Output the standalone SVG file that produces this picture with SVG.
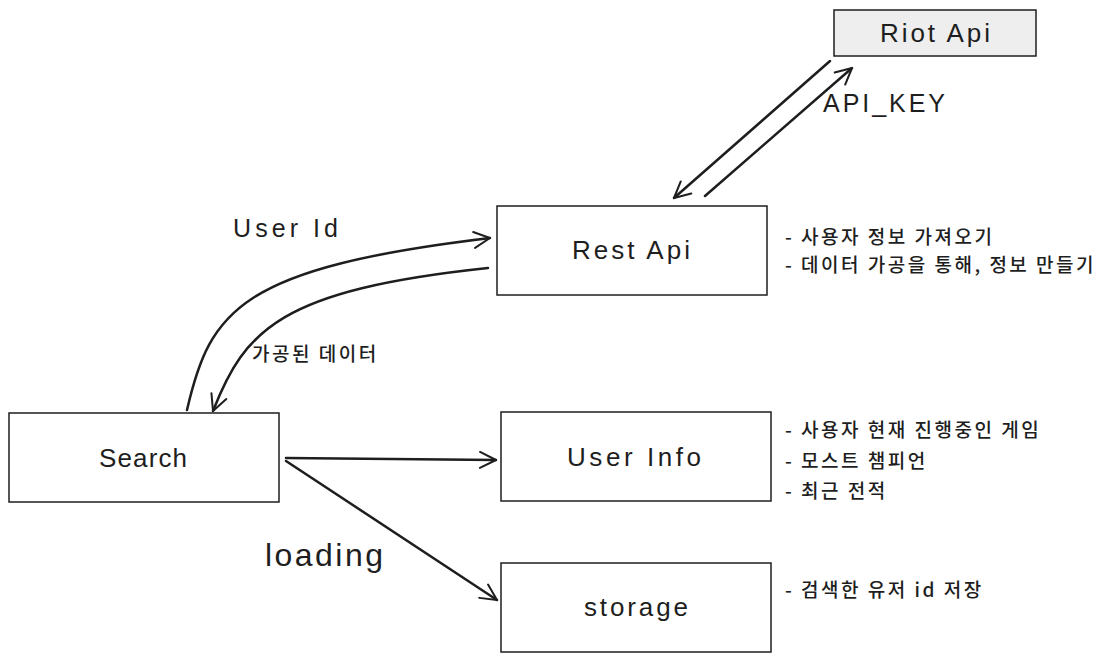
<svg xmlns="http://www.w3.org/2000/svg" width="1105" height="661" viewBox="0 0 1105 661">
<defs>
<marker id="ah" viewBox="0 0 20 20" refX="18" refY="10" markerWidth="20" markerHeight="20" markerUnits="userSpaceOnUse" orient="auto">
<path d="M2,2 L18,10 L2,18" fill="none" stroke="#1e1e1e" stroke-width="2" stroke-linecap="round" stroke-linejoin="round"/>
</marker>
</defs>
<style>
.box{fill:#ffffff;stroke:#1e1e1e;stroke-width:1.5}
.grey{fill:#eeeeee}
.lbl{font-family:"Liberation Sans","Noto Sans CJK KR",sans-serif;font-size:26px;fill:#1e1e1e;text-anchor:middle;dominant-baseline:central}
.note{font-family:"Noto Sans CJK KR",sans-serif;font-size:19px;fill:#1e1e1e;font-weight:500;letter-spacing:2.5px}
.edge{fill:none;stroke:#1e1e1e;stroke-width:2.5;stroke-linecap:round;marker-end:url(#ah)}
.elbl{font-family:"Liberation Sans","Noto Sans CJK KR",sans-serif;font-size:25px;fill:#1e1e1e}
</style>
<rect width="1105" height="661" fill="#ffffff"/>
<g id="connectors">
<path class="edge" d="M830,61 L674,198"/>
<path class="edge" d="M705,196 L852,68"/>
<path class="edge" d="M187,410 C210,310 240,268 490,238"/>
<path class="edge" d="M488,268 C280,290 245,330 213,411"/>
<path class="edge" d="M286,458 L496,460"/>
<path class="edge" d="M286,461 L497,600"/>
<text class="elbl" x="823" y="112" textLength="122" lengthAdjust="spacing">API_KEY</text>
<text class="elbl" x="233" y="237" textLength="105" lengthAdjust="spacing">User Id</text>
<text class="note" x="252" y="361">가공된 데이터</text>
<text class="elbl" x="265" y="566" style="font-size:32px" textLength="118" lengthAdjust="spacing">loading</text>
</g>
<g id="riot">
<rect class="box grey" x="834" y="10" width="202" height="46"/>
<text class="lbl" x="935" y="33" textLength="110" lengthAdjust="spacing">Riot Api</text>
</g>
<g id="rest">
<rect class="box" x="497" y="206" width="270" height="89"/>
<text class="lbl" x="631" y="250" textLength="118" lengthAdjust="spacing">Rest Api</text>
<text class="note" x="785" y="244">- 사용자 정보 가져오기</text>
<text class="note" x="785" y="272">- 데이터 가공을 통해, 정보 만들기</text>
</g>
<g id="search">
<rect class="box" x="9" y="413" width="270" height="89"/>
<text class="lbl" x="143" y="458" textLength="88" lengthAdjust="spacing">Search</text>
</g>
<g id="userinfo">
<rect class="box" x="501" y="412" width="270" height="89"/>
<text class="lbl" x="634" y="457" textLength="134" lengthAdjust="spacing">User Info</text>
<text class="note" x="785" y="437">- 사용자 현재 진행중인 게임</text>
<text class="note" x="785" y="468">- 모스트 챔피언</text>
<text class="note" x="785" y="498">- 최근 전적</text>
</g>
<g id="storage">
<rect class="box" x="501" y="563" width="270" height="89"/>
<text class="lbl" x="636" y="607" textLength="104" lengthAdjust="spacing">storage</text>
<text class="note" x="785" y="597">- 검색한 유저 id 저장</text>
</g>
</svg>
